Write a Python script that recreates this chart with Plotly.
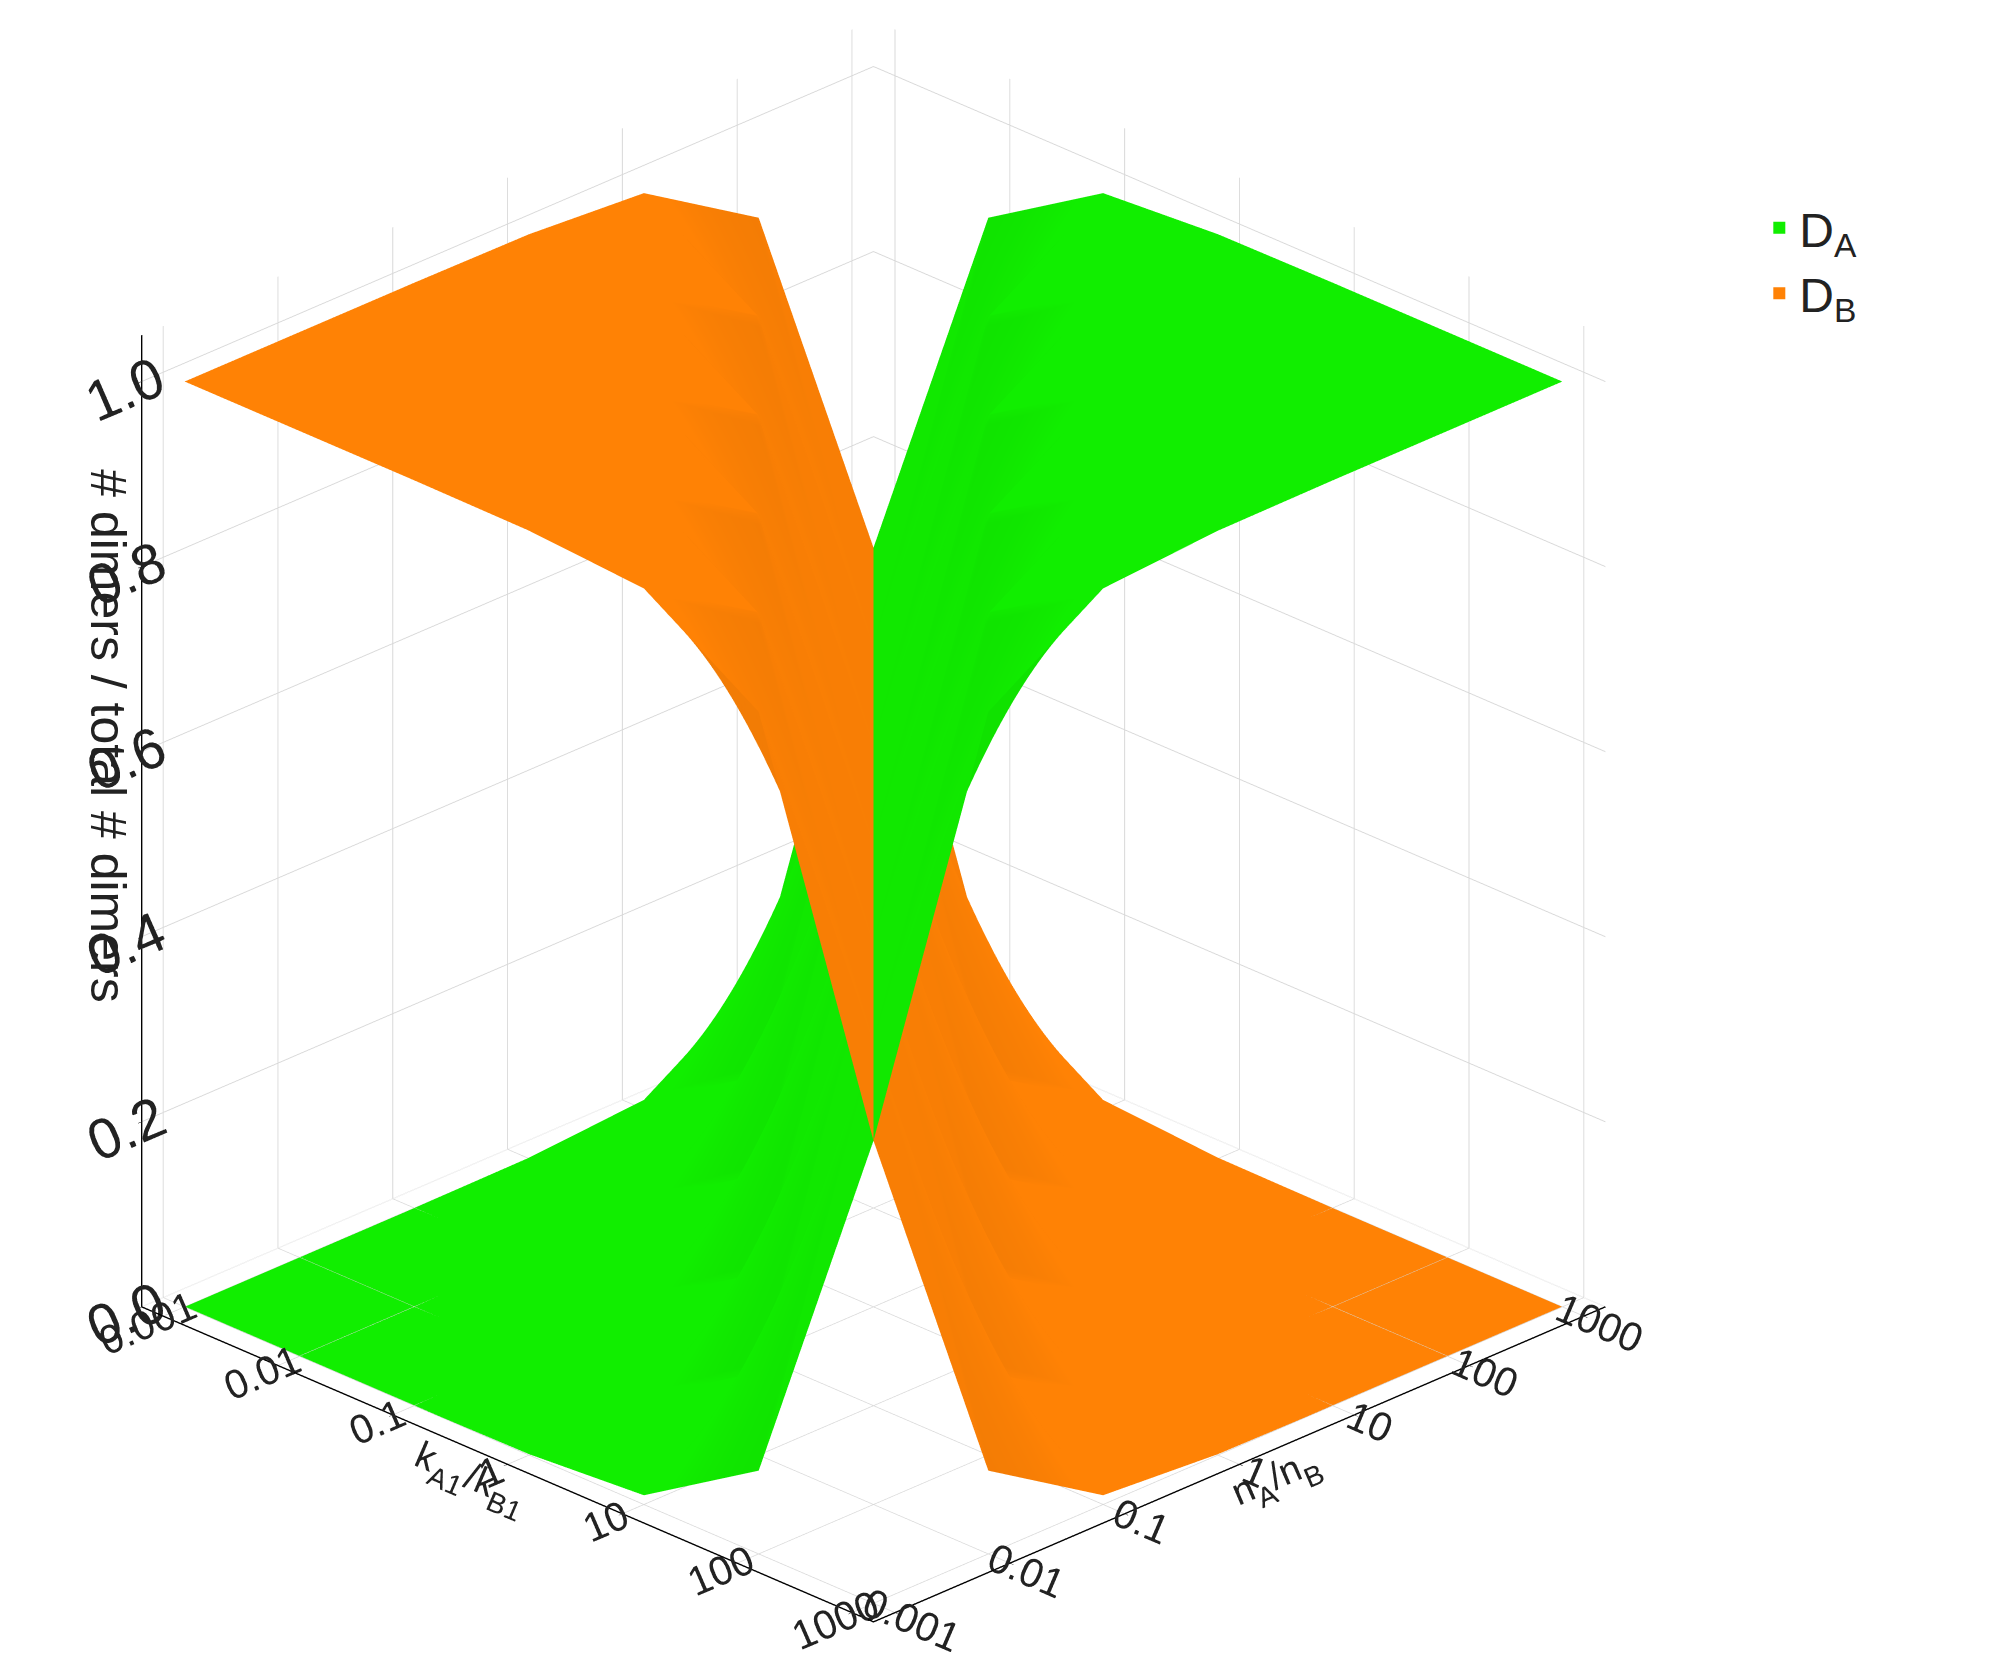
import plotly.graph_objects as go

# ejes logaritmicos y etiquetas
k_ratio = [0.001, 0.01, 0.1, 1, 10, 100, 1000]
n_ratio = [0.001, 0.01, 0.1, 1, 10, 100, 1000]
tick_text = ["0.001", "0.01", "0.1", "1", "10", "100", "1000"]

# fraccion de dimeros D_A (filas: n_A/n_B, columnas: k_A1/k_B1)
frac_DA = [
    [0.000, 0.000, 0.000, 0.001, 0.010, 0.090, 0.500],
    [0.000, 0.000, 0.001, 0.010, 0.090, 0.500, 0.910],
    [0.000, 0.001, 0.010, 0.090, 0.500, 0.910, 0.990],
    [0.001, 0.010, 0.090, 0.500, 0.910, 0.990, 0.999],
    [0.010, 0.090, 0.500, 0.910, 0.990, 0.999, 1.000],
    [0.090, 0.500, 0.910, 0.990, 0.999, 1.000, 1.000],
    [0.500, 0.910, 0.990, 0.999, 1.000, 1.000, 1.000],
]
frac_DB = [[1 - v for v in fila] for fila in frac_DA]

verde = "#11ee00"
naranja = "#ff8205"

fig = go.Figure()
for z, color in [(frac_DA, verde), (frac_DB, naranja)]:
    fig.add_trace(go.Surface(
        x=k_ratio, y=n_ratio, z=z,
        colorscale=[[0, color], [1, color]], showscale=False,
        lighting=dict(ambient=0.95, diffuse=0.1, specular=0.0),
        hoverinfo="skip"))

# entradas de leyenda
for nombre, color in [("D<sub>A</sub>", verde), ("D<sub>B</sub>", naranja)]:
    fig.add_trace(go.Scatter3d(x=[None], y=[None], z=[None], mode="markers",
                               marker=dict(symbol="square", size=30, color=color),
                               name=nombre, showlegend=True))

eje = dict(type="log", tickvals=k_ratio, ticktext=tick_text,
           showbackground=False, gridcolor="#d8d8d8", linecolor="black",
           linewidth=3, showline=True, ticks="outside", tickcolor="black",
           tickfont=dict(size=22, family="Arial"))

fig.update_layout(
    width=2013, height=1656,
    paper_bgcolor="white", font=dict(family="Arial", color="#222"),
    margin=dict(l=0, r=0, t=0, b=0),
    scene=dict(
        xaxis=dict(eje, title=dict(text="k<sub>A1</sub>/k<sub>B1</sub>",
                                   font=dict(size=38, family="Arial"))),
        yaxis=dict(eje, title=dict(text="n<sub>A</sub>/n<sub>B</sub>",
                                   font=dict(size=38, family="Arial"))),
        zaxis=dict(showbackground=False, gridcolor="#d8d8d8", linecolor="black",
                   linewidth=3, showline=True, ticks="outside", tickcolor="black",
                   range=[0, 1.05], tickvals=[0, 0.2, 0.4, 0.6, 0.8, 1.0],
                   ticktext=["0.0", "0.2", "0.4", "0.6", "0.8", "1.0"],
                   tickfont=dict(size=26, family="Arial"), title=dict(text="")),
        camera=dict(eye=dict(x=1.29, y=-1.29, z=0.85),
                    center=dict(x=0, y=0, z=-0.02),
                    projection=dict(type="orthographic")),
        aspectmode="manual", aspectratio=dict(x=1.25, y=1.25, z=1.3),
        domain=dict(x=[0.0, 0.86], y=[0.0, 1]),
    ),
    legend=dict(x=0.87, y=0.89, font=dict(size=48), itemsizing="constant"),
    annotations=[dict(text="# dimers / total # dimers", x=0.035, y=0.56,
                      xref="paper", yref="paper", textangle=90, showarrow=False,
                      font=dict(size=50, family="Arial"))],
)

fig.write_html("out.html")
